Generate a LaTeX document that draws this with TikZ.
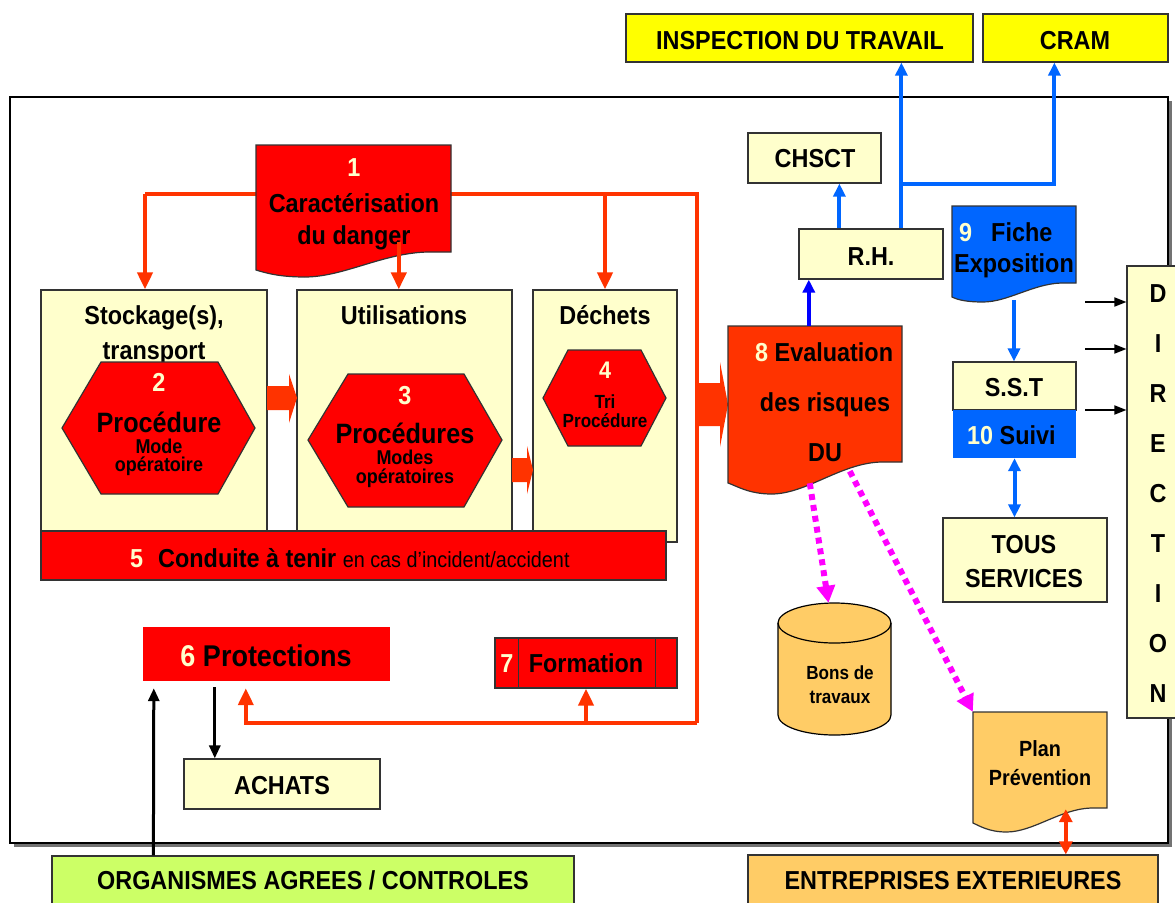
\documentclass[tikz,border=0pt]{standalone}
\usepackage{fontspec}
\setmainfont{Liberation Sans}
\newfontfamily\nf[FakeStretch=0.9]{Liberation Sans}
\usetikzlibrary{arrows.meta,calc}
\definecolor{cred}{HTML}{FF0000}
\definecolor{cline}{HTML}{FF3300}
\definecolor{cyel}{HTML}{FFFFCC}
\definecolor{cyellow}{HTML}{FFFF00}
\definecolor{cgreen}{HTML}{CCFF66}
\definecolor{corange}{HTML}{FFCC66}
\definecolor{cblue}{HTML}{0066FF}
\definecolor{cdblue}{HTML}{0000FF}
\definecolor{cmag}{HTML}{FF00FF}
\definecolor{cnum}{HTML}{FFFFCC}
\definecolor{cbord}{HTML}{333333}
\newcommand{\fs}[1]{\nf\bfseries\fontsize{#1}{#1}\selectfont}
\newcommand{\docpath}[6]{% L T R rb lb low
  (#1,#2) -- (#3,#2) -- (#3,#4) -- ({#3-0.12*(#3-#1)},#4)
  .. controls ({#3-0.35*(#3-#1)},{#4+1}) and ({#1+0.45*(#3-#1)},#6) .. ({#1+0.25*(#3-#1)},#6)
  .. controls ({#1+0.12*(#3-#1)},#6) and ({#1+0.05*(#3-#1)},{#5+3}) .. (#1,#5) -- cycle}
\begin{document}
\begin{tikzpicture}[x=1pt,y=-1pt,
  box/.style={draw=cbord, line width=1.2pt, inner sep=0, anchor=center},
  ybox/.style={box, fill=cyel},
  ghost/.style={inner sep=0, anchor=center},
  tx/.style={inner sep=0, anchor=base, font={\fs{26}}},
  rl/.style={draw=cline, line width=4pt},
  rarr/.style={rl, -{Triangle[width=15pt,length=17pt]}},
  bl/.style={draw=cblue, line width=4pt},
  barr/.style={bl, -{Triangle[width=12pt,length=13pt]}},
  karr/.style={draw=black, line width=3pt, -{Triangle[width=11pt,length=13pt]}},
  kthin/.style={draw=black, line width=1.8pt, -{Triangle[width=9pt,length=12pt]}},
  marr/.style={draw=cmag, line width=6pt, dash pattern=on 6pt off 5pt, -{Triangle[width=18pt,length=17pt]}},
  hexa/.style={draw=cbord, line width=1.2pt, fill=cred},
  blk/.style={fill=cline}
]
\useasboundingbox (0,0) rectangle (1175,902);
\clip (0,0) rectangle (1175,902);
\fill[white] (0,0) rectangle (1175,902);

% outer frame with shadow
\fill[black!55] (14,101) rectangle (1172,847);
\draw[fill=white, draw=black, line width=1.5pt] (10,97) rectangle (1168,843);

% top external boxes
\node[box, fill=cyellow, minimum width=347pt, minimum height=48pt] (insp) at (799.5,38) {};
\node[box, fill=cyellow, minimum width=185pt, minimum height=48pt] (cram) at (1075.5,38) {};
\node[tx] (tinsp) at (800,49) {INSPECTION DU TRAVAIL};
\node[tx] (tcram) at (1075,49) {CRAM};

% red lines from 1
\coordinate (rL) at (145,194);
\coordinate (rR) at (697,194);
\coordinate (rB) at (697,723);
\draw[rl] (rL) -- (rR) -- (rB);

% process boxes
\node[ybox, minimum width=226pt, minimum height=245pt] (stock) at (154,412.5) {};
\node[ybox, minimum width=215pt, minimum height=245pt] (util) at (404.5,412.5) {};
\node[ybox, minimum width=144pt, minimum height=252pt] (dech) at (605,416) {};
\node[tx] (tstock1) at (154,324) {Stockage(s),};
\node[tx] (tstock2) at (154,359) {transport};
\node[tx] (tutil) at (404,324) {Utilisations};
\node[tx] (tdech) at (605,324) {Déchets};

\draw[rarr] (rL) -- (rL |- stock.north);
\draw[rarr] (dech.north |- rL) -- (dech.north);

% hexagons
\draw[hexa] (62,428) -- (101,362) -- (218,362) -- (255,428) -- (218,494) -- (101,494) -- cycle;
\draw[hexa] (308,440) -- (348,374) -- (464,374) -- (502,440) -- (464,507) -- (348,507) -- cycle;
\draw[hexa] (543,398) -- (568,350) -- (641,350) -- (666,398) -- (641,446) -- (568,446) -- cycle;
\node[tx, text=cnum] (h2n) at (159,391) {2};
\node[tx, font={\fs{28}}] (h2a) at (159,432) {Procédure};
\node[tx, font={\fs{20}}] (h2b) at (159,453) {Mode};
\node[tx, font={\fs{20}}] (h2c) at (159,471) {opératoire};
\node[tx, text=cnum] (h3n) at (405,404) {3};
\node[tx, font={\fs{28}}] (h3a) at (405,443) {Procédures};
\node[tx, font={\fs{20}}] (h3b) at (405,464) {Modes};
\node[tx, font={\fs{20}}] (h3c) at (405,483) {opératoires};
\node[tx, text=cnum, font={\fs{24}}] (h4n) at (605,378) {4};
\node[tx, font={\fs{19}}] (h4a) at (605,408) {Tri};
\node[tx, font={\fs{19}}] (h4b) at (605,427) {Procédure};

% block arrows
\fill[blk] (267,386) -- (289,386) -- (289,374) -- (297,398) -- (289,423) -- (289,410) -- (267,410) -- cycle;
\fill[blk] (512,458) -- (527,458) -- (527,446) -- (533,470) -- (527,494) -- (527,482) -- (512,482) -- cycle;
\fill[blk] (695,383) -- (720,383) -- (720,362) -- (728,404.5) -- (720,447) -- (720,426) -- (695,426) -- cycle;

% box 5
\node[box, fill=cred, minimum width=625pt, minimum height=49pt] (five) at (353.5,555.5) {};
\node[tx, anchor=base west] (t5) at (130,567) {\textcolor{cnum}{5}\hspace{15pt}Conduite à tenir {\mdseries\fontsize{22}{22}\selectfont en cas d’incident/accident}};

% box 1 document
\draw[fill=cred, draw=cbord, line width=1.2pt] \docpath{256}{145}{451}{252}{270}{277};
\node[ghost, minimum width=195pt, minimum height=107pt] (d1) at (353.5,198.5) {};
\node[tx, text=cnum] (t1n) at (354,176) {1};
\node[tx] (t1a) at (354,212) {Caractérisation};
\node[tx] (t1b) at (354,244) {du danger};
\coordinate (u1) at ($(d1.south west)+(143,-10)$);
\draw[rarr] (u1) -- (u1 |- util.north);

% 6 and 7
\node[ghost, fill=cred, minimum width=247pt, minimum height=54pt] (six) at (266.5,654) {};
\node[tx, font={\fs{30}}] (t6) at (266,666) {\textcolor{cnum}{6} Protections};
\node[box, fill=cred, minimum width=182pt, minimum height=50pt] (seven) at (586,663) {};
\draw[cbord, line width=1pt] (518,638) -- (518,688) (655,638) -- (655,688);
\node[tx, text=cnum] (t7n) at (507,672) {7};
\node[tx] (t7) at (586,672) {Formation};

\coordinate (s6) at ($(six.south west)+(103,7)$);
\draw[rarr] (rB) -| (s6);
\draw[rarr] (seven.south |- rB) -- (seven.south);

% achats and organismes
\node[ybox, minimum width=196pt, minimum height=50pt] (achats) at (282,784) {};
\node[tx] (tachats) at (282,794) {ACHATS};
\node[box, fill=cgreen, minimum width=522pt, minimum height=54pt] (org) at (313,883) {};
\node[tx] (torg) at (313,889) {ORGANISMES AGREES / CONTROLES};
\coordinate (a6) at ($(six.south west)+(72,6)$);
\coordinate (o6) at ($(org.north west)+(102,0)$);
\coordinate (p6) at ($(six.south west)+(11,7)$);
\draw[karr] (a6) -- (a6 |- achats.north);
\draw[karr] (o6) -- (p6);

% CHSCT and RH
\node[ybox, minimum width=133pt, minimum height=50pt] (chsct) at (814.5,158) {};
\node[tx] (tchsct) at (815,167) {CHSCT};
\node[ybox, minimum width=144pt, minimum height=50pt] (rh) at (871,254) {};
\node[tx] (trh) at (871,265) {R.H.};

\coordinate (rh1) at ($(rh.north west)+(41,0)$);
\coordinate (rh2) at ($(rh.north west)+(103,0)$);
\coordinate (cr1) at ($(cram.south west)+(72,0)$);
\draw[barr] (rh1) -- (rh1 |- chsct.south);
\draw[barr] (rh2) -- (rh2 |- insp.south);
\coordinate (br) at (rh2 |- chsct.south);
\draw[barr] (br) -| (cr1);

% box 8
\draw[fill=cline, draw=cbord, line width=1.2pt] \docpath{728}{326}{902}{462}{483}{494};
\node[ghost, minimum width=174pt, minimum height=136pt] (d8) at (815,394) {};
\node[tx, anchor=base west] (t8a) at (755,361) {\textcolor{cnum}{8} Evaluation};
\node[tx] (t8b) at (825,411) {des risques};
\node[tx] (t8c) at (825,461) {DU};
\coordinate (e8) at ($(d8.north west)+(81,0)$);
\draw[draw=cdblue, line width=3.5pt, -{Triangle[width=12pt,length=13pt]}] (e8) -- (e8 |- rh.south);

% 9 Fiche exposition
\draw[fill=cblue, draw=cbord, line width=1.2pt] \docpath{952}{206}{1076}{283}{297}{302};
\node[ghost, minimum width=124pt, minimum height=77pt] (d9) at (1014,244.5) {};
\node[tx, anchor=base west] (t9a) at (959,241) {\textcolor{cnum}{9}\hspace{19pt}Fiche};
\node[tx] (t9b) at (1014,272) {Exposition};

% SST / Suivi / Tous services
\node[ybox, minimum width=123pt, minimum height=48pt] (sst) at (1014.5,386) {};
\node[tx] (tsst) at (1014,396) {S.S.T};
\node[ghost, fill=cblue, minimum width=123pt, minimum height=48pt] (suivi) at (1014.5,434) {};
\node[tx, anchor=base west] (tsuivi) at (967,444) {\textcolor{cnum}{10} Suivi};
\node[ybox, minimum width=164pt, minimum height=84pt] (tous) at (1025,560) {};
\node[tx] (ttous1) at (1024,553) {TOUS};
\node[tx] (ttous2) at (1024,587) {SERVICES};
\coordinate (f9) at ($(d9.south)+(0,17)$);
\draw[barr] (f9) -- (f9 |- sst.north);
\draw[bl, {Triangle[width=12pt,length=13pt]}-{Triangle[width=12pt,length=13pt]}] (suivi.south) -- (suivi.south |- tous.north);

% DIRECTION
\node[ybox, minimum width=53pt, minimum height=452pt] (dir) at (1153.5,492) {};
\foreach \L [count=\i] in {D,I,R,E,C,T,I,O,N} {
  \node[tx] (dl\i) at (1158,{293+50*(\i-1)+9.4}) {\L};
}
\coordinate (k1) at (1085,302);
\coordinate (k2) at (1085,349);
\coordinate (k3) at (1085,410);
\draw[kthin] (k1) -- (k1 -| dir.west);
\draw[kthin] (k2) -- (k2 -| dir.west);
\draw[kthin] (k3) -- (k3 -| dir.west);

% Bons de travaux cylinder
\draw[fill=corange, draw=black, line width=1.2pt] (778,623) -- (778,715) arc[start angle=180, end angle=360, x radius=56.5pt, y radius=20pt] -- (891,623) arc[start angle=0, end angle=180, x radius=56.5pt, y radius=20pt] -- cycle;
\draw[black, line width=1.2pt] (778,623) arc[start angle=180, end angle=360, x radius=56.5pt, y radius=20pt];
\node[ghost, minimum width=113pt, minimum height=132pt] (cyl) at (834.5,669) {};
\node[tx, font={\fs{19}}] (tbons1) at (840,679) {Bons de};
\node[tx, font={\fs{19}}] (tbons2) at (840,703) {travaux};

% Plan prevention
\draw[fill=corange, draw=cbord, line width=1.2pt] \docpath{973}{712}{1107}{808}{823}{832};
\node[ghost, minimum width=134pt, minimum height=96pt] (plan) at (1040,760) {};
\node[tx, font={\fs{22}}] (tplan1) at (1040,756) {Plan};
\node[tx, font={\fs{22}}] (tplan2) at (1040,785) {Prévention};

% Entreprises exterieures
\node[box, fill=corange, minimum width=410pt, minimum height=55pt] (ent) at (953,882.5) {};
\node[tx] (tent) at (953,889) {ENTREPRISES EXTERIEURES};
\coordinate (pl) at ($(plan.south west)+(93,1)$);
\draw[rl, line width=3.5pt, {Triangle[width=13pt,length=13pt]}-{Triangle[width=13pt,length=13pt]}] (pl) -- (pl |- ent.north);

% magenta dotted arrows
\coordinate (m1) at ($(d8.south west)+(82,21)$);
\coordinate (m2) at ($(d8.south west)+(122,9)$);
\draw[marr] (m1) -- ($(cyl.north)+(-6,0)$);
\draw[marr] (m2) -- (plan.north west);
\end{tikzpicture}
\end{document}
